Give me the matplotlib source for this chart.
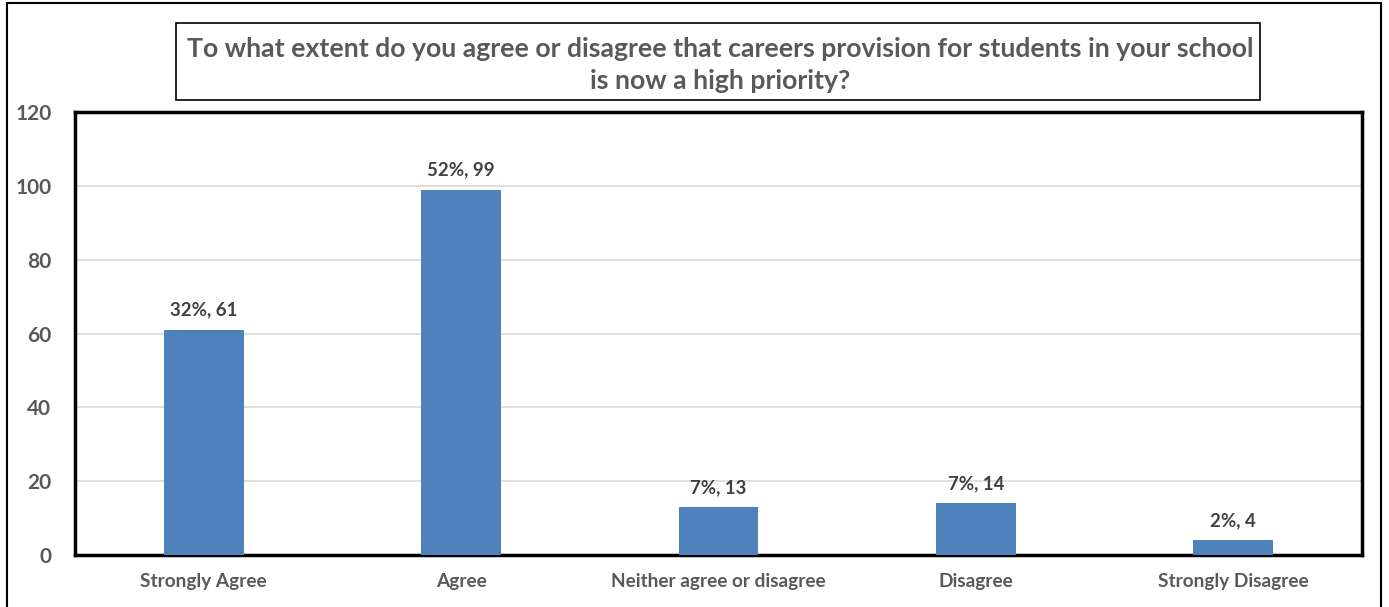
import matplotlib
matplotlib.use("Agg")
import matplotlib.pyplot as plt
from matplotlib.patches import Rectangle

categories = ["Strongly Agree", "Agree", "Neither agree or disagree", "Disagree", "Strongly Disagree"]
counts = [61, 99, 13, 14, 4]
percents = ["32%", "52%", "7%", "7%", "2%"]
yticks = [0, 20, 40, 60, 80, 100, 120]
title = "To what extent do you agree or disagree that careers provision for students in your school\nis now a high priority?"

W, H = 1389, 607
fig = plt.figure(figsize=(W/100, H/100), dpi=100)
plt.rcParams['font.family'] = ['Lato', 'DejaVu Sans']

def fx(px): return px / W
def fy(py): return 1 - py / H

# outer border
fig.patches.append(Rectangle((fx(7), fy(620)), fx(1381) - fx(7), fy(3) - fy(620),
                             transform=fig.transFigure, fill=False, edgecolor='black', lw=1.5))

ax = fig.add_axes([fx(75), fy(555), fx(1362) - fx(75), fy(112) - fy(555)])
x = list(range(len(categories)))
ax.bar(x, counts, width=0.31, color='#4F81BD', zorder=3)
ax.set_xlim(-0.5, len(categories) - 0.5)
ax.set_ylim(0, 120)
ax.set_yticks(yticks)
ax.set_yticklabels([str(t) for t in yticks], fontsize=15, fontweight='bold', color='#595959')
ax.set_xticks(x)
ax.set_xticklabels(categories, fontsize=13.7, fontweight='bold', color='#595959')
ax.tick_params(axis='both', length=0)
ax.tick_params(axis='y', pad=17)
ax.tick_params(axis='x', pad=13)
ax.grid(axis='y', color='#D9D9D9', lw=1.2, zorder=0)
for s in ax.spines.values():
    s.set_linewidth(2.5)
    s.set_color('black')

for xi, c, p in zip(x, counts, percents):
    ax.annotate(f"{p}, {c}", (xi, c), xytext=(0, 8), textcoords='offset points',
                ha='center', va='bottom', fontsize=13.4, fontweight='bold', color='#404040')

fig.text(fx(720), fy(65), title, ha='center', va='center', fontsize=19.2, fontweight='bold',
         color='#595959', linespacing=1.4)
fig.patches.append(Rectangle((fx(176), fy(100)), fx(1260) - fx(176), fy(23) - fy(100),
                             transform=fig.transFigure, fill=False, edgecolor='black', lw=1.2))

fig.savefig("out.png", dpi=100)
